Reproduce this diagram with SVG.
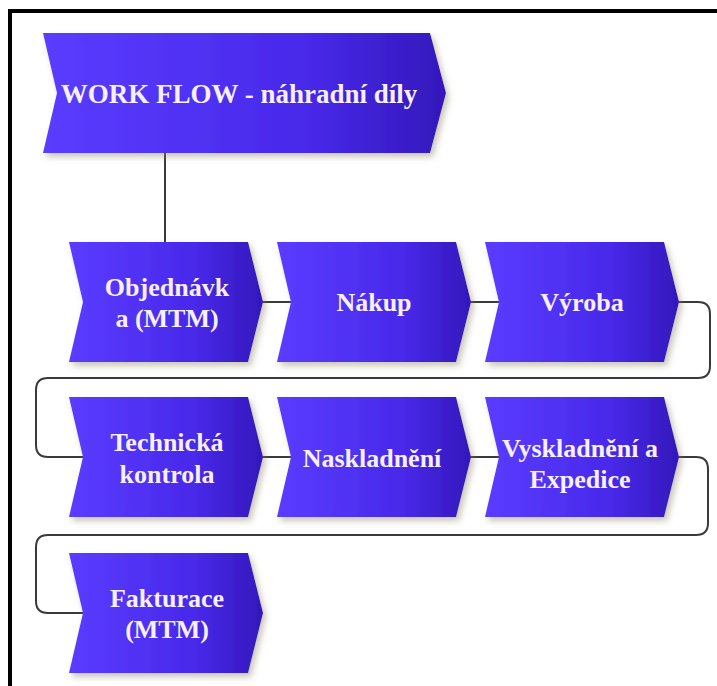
<svg xmlns="http://www.w3.org/2000/svg" width="717" height="686" viewBox="0 0 717 686">
  <defs>
    <linearGradient id="fillGrad" x1="0" y1="0" x2="1" y2="0">
      <stop offset="0" stop-color="#5a3cff"/>
      <stop offset="0.65" stop-color="#4829ea"/>
      <stop offset="1" stop-color="#3418bb"/>
    </linearGradient>
    <filter id="shadow" x="-10%" y="-10%" width="125%" height="130%">
      <feDropShadow dx="3" dy="4" stdDeviation="3" flood-color="#8a8060" flood-opacity="0.45"/>
    </filter>
    <polygon id="chev" points="0,0 179,0 194,60 179,120 0,120 14,60"/>
  </defs>
  <style>
    .node { fill: url(#fillGrad); filter: url(#shadow); }
    .lbl { font-family: "Liberation Serif", "Times New Roman", serif; font-weight: bold; font-size: 26px; fill: #f6efff; text-anchor: middle; }
    .hdr { font-size: 27px; }
    .conn { fill: none; stroke: #3a3a3a; stroke-width: 2; }
    .frame { fill: #000000; }
  </style>
  <rect width="717" height="686" fill="#ffffff"/>
  <rect class="frame" x="8" y="9" width="4" height="677"/>
  <rect class="frame" x="8" y="9" width="709" height="4"/>

  <g id="connectors">
    <path class="conn" d="M165,153 V242"/>
    <path class="conn" d="M262,302 H291"/>
    <path class="conn" d="M470,302 H499"/>
    <path class="conn" d="M678,302 H698 Q710,302 710,314 V366 Q710,378 698,378 H48 Q36,378 36,390 V445 Q36,457 48,457 H83"/>
    <path class="conn" d="M262,457 H291"/>
    <path class="conn" d="M470,457 H499"/>
    <path class="conn" d="M678,457 H696 Q708,457 708,469 V523 Q708,535 696,535 H48 Q36,535 36,547 V601 Q36,613 48,613 H83"/>
  </g>

  <g id="header">
    <polygon class="node" points="43,33 430,33 446,93 430,153 43,153 57,93"/>
    <text class="lbl hdr" x="239" y="103">WORK FLOW - náhradní díly</text>
  </g>

  <g id="objednavka">
    <use href="#chev" class="node" x="69" y="242"/>
    <text class="lbl" x="167" y="296">Objednávk</text>
    <text class="lbl" x="167" y="327">a (MTM)</text>
  </g>
  <g id="nakup">
    <use href="#chev" class="node" x="277" y="242"/>
    <text class="lbl" x="374" y="311">Nákup</text>
  </g>
  <g id="vyroba">
    <use href="#chev" class="node" x="485" y="242"/>
    <text class="lbl" x="582" y="311">Výroba</text>
  </g>

  <g id="technicka">
    <use href="#chev" class="node" x="69" y="397"/>
    <text class="lbl" x="167" y="451">Technická</text>
    <text class="lbl" x="167" y="483">kontrola</text>
  </g>
  <g id="naskladneni">
    <use href="#chev" class="node" x="277" y="397"/>
    <text class="lbl" x="372" y="467">Naskladnění</text>
  </g>
  <g id="vyskladneni">
    <use href="#chev" class="node" x="485" y="397"/>
    <text class="lbl" x="580" y="457">Vyskladnění a</text>
    <text class="lbl" x="580" y="488">Expedice</text>
  </g>

  <g id="fakturace">
    <use href="#chev" class="node" x="69" y="553"/>
    <text class="lbl" x="167" y="607">Fakturace</text>
    <text class="lbl" x="167" y="638">(MTM)</text>
  </g>
</svg>
